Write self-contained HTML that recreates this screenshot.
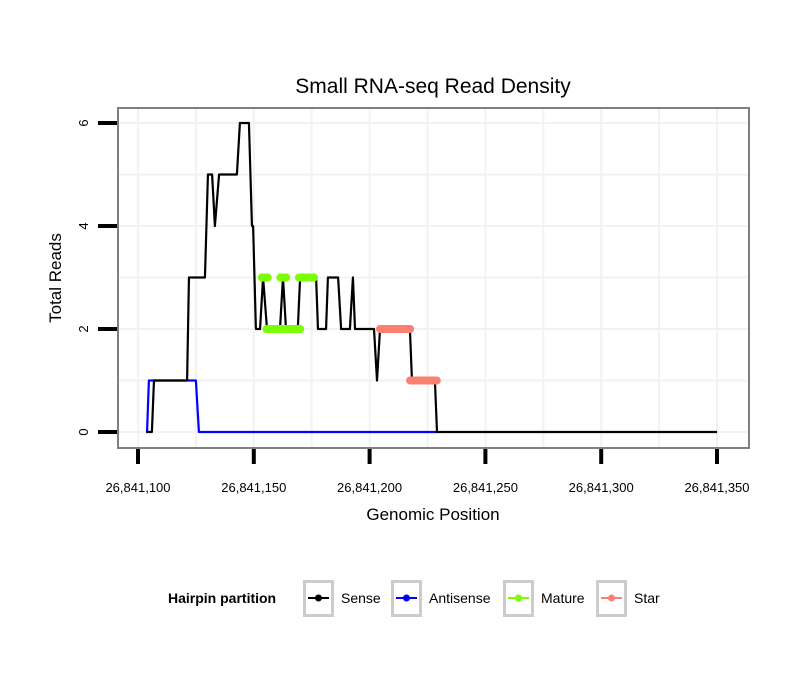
<!DOCTYPE html>
<html><head><meta charset="utf-8">
<style>body{margin:0;background:#fff}svg{display:block;font-family:"Liberation Sans",sans-serif}</style>
</head><body>
<svg id="chart" width="810" height="690" viewBox="0 0 810 690">
<rect width="810" height="690" fill="#fff"/>
<text x="433" y="93" font-size="21" text-anchor="middle">Small RNA-seq Read Density</text>
<g id="grid"></g>
<g id="series"></g>
<rect x="118" y="108" width="631" height="340" fill="none" stroke="#7f7f7f" stroke-width="2"/>
<g id="axes"></g>
<text x="433" y="520" font-size="17" text-anchor="middle">Genomic Position</text>
<text transform="translate(61,278) rotate(-90)" font-size="17" text-anchor="middle">Total Reads</text>
<g>
<text x="168" y="603" font-size="14" font-weight="bold">Hairpin partition</text>
<g id="legend"></g>
</g>
</svg>
<script>
const xTicks=[100,150,200,250,300,350];
const xTickLabels=["26,841,100","26,841,150","26,841,200","26,841,250","26,841,300","26,841,350"];
const yTicks=[0,2,4,6];
const sensePos=[103.5,106,106.9,121.2,122,128.9,130.2,132,133.2,135,142.7,144,147.9,149.2,149.7,150.9,152.7,154,155.7,161.3,162.6,163.9,169,170,176.9,177.7,181.2,182,186.4,187.7,191.5,192.8,193.7,201.9,203.2,204.5,217.4,218.3,228.2,229.1,350];
const senseVal=[0,0,1,1,3,3,5,5,4,5,5,6,6,4,4,2,2,3,2,2,3,2,2,3,3,2,2,3,3,2,2,3,2,2,1,2,2,1,1,0,0];
const antiPos=[103.9,104.7,125,126.3,229.1];
const antiVal=[0,1,1,0,0];
const matureStart=[153.5,161.5,169.5,155.5,163];
const matureEnd=[156,164,176,162,170];
const matureVal=[3,3,3,2,2];
const starStart=[204.5,217.5];
const starEnd=[217.5,229];
const starVal=[2,1];
const legendLabels=["Sense","Antisense","Mature","Star"];
const legendColors=["#000000","#0000ff","#7cfc00","#fa8072"];

const NS="http://www.w3.org/2000/svg";
const X=v=>138+(v-100)*579/250;
const Y=v=>432-v*309/6;
function mk(tag,attrs,parent){const e=document.createElementNS(NS,tag);for(const k in attrs)e.setAttribute(k,attrs[k]);parent.appendChild(e);return e;}
const grid=document.getElementById('grid'),series=document.getElementById('series'),axes=document.getElementById('axes'),legend=document.getElementById('legend');
for(let v=75;v<=375;v+=25){const x=X(v);if(x<119||x>748)continue;
 const l=mk('line',{x1:x,x2:x,y1:109,y2:447,stroke:'#f2f2f2','stroke-width':2},grid);
 }
for(let v=0;v<=6.3;v+=1){const y=Y(v);
 const l=mk('line',{x1:119,x2:748,y1:y,y2:y,stroke:'#f2f2f2','stroke-width':2},grid);
 }
function poly(px,pv,color,name){const pts=px.map((p,i)=>X(p)+','+Y(pv[i])).join(' ');
 const l=mk('polyline',{points:pts,fill:'none',stroke:color,'stroke-width':2.2,'stroke-linejoin':'round'},series);
 }
poly(antiPos,antiVal,'#0000ff','antisense-line');
poly(sensePos,senseVal,'#000000','sense-line');
function segs(s,e,v,color,name){for(let i=0;i<s.length;i++){
 const l=mk('line',{x1:X(s[i]),x2:X(e[i]),y1:Y(v[i]),y2:Y(v[i]),stroke:color,'stroke-width':8,'stroke-linecap':'round'},series);
 }}
segs(matureStart,matureEnd,matureVal,'#7cfc00','mature-segment');
segs(starStart,starEnd,starVal,'#fa8072','star-segment');
xTicks.forEach((v,i)=>{const x=X(v);
 const t=mk('line',{x1:x,x2:x,y1:449,y2:464,stroke:'#000','stroke-width':4},axes);
 
 const tx=mk('text',{x:x,y:492,'font-size':13,'text-anchor':'middle'},axes);tx.textContent=xTickLabels[i];
 });
yTicks.forEach(v=>{const y=Y(v);
 const t=mk('line',{x1:98,x2:117,y1:y,y2:y,stroke:'#000','stroke-width':4},axes);
 
 const tx=mk('text',{transform:`translate(88,${y}) rotate(-90)`,'font-size':13,'text-anchor':'middle'},axes);tx.textContent=v;
 });
const boxX=[303,391,503,596],labX=[341,429,541,634];
legendLabels.forEach((lab,i)=>{const g=mk('g',{},legend);
 
 mk('rect',{x:boxX[i]+1.5,y:581.5,width:28,height:34,fill:'#fff',stroke:'#cccccc','stroke-width':3},g);
 mk('line',{x1:boxX[i]+5,x2:boxX[i]+26,y1:598,y2:598,stroke:legendColors[i],'stroke-width':2},g);
 mk('circle',{cx:boxX[i]+15.5,cy:598,r:3.5,fill:legendColors[i]},g);
 const t=mk('text',{x:labX[i],y:603,'font-size':14},g);t.textContent=lab;});
</script>
</body></html>
